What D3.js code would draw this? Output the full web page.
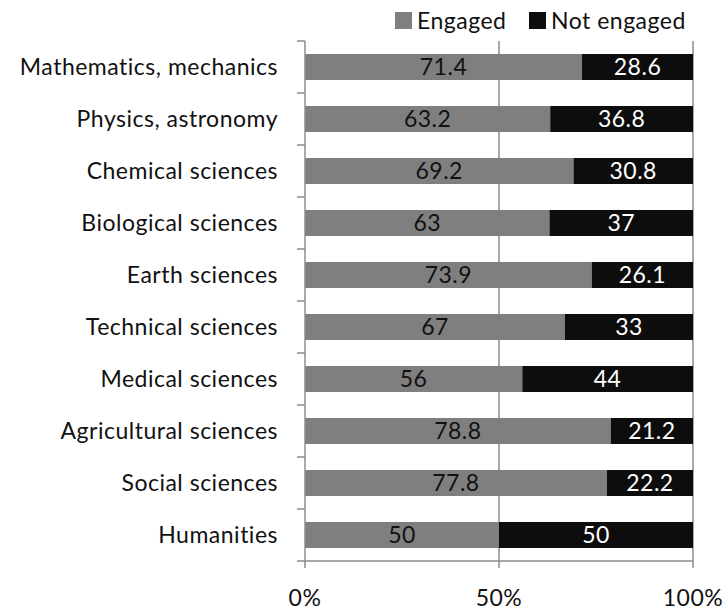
<!DOCTYPE html>
<html>
<head>
<meta charset="utf-8">
<script src="https://cdn.jsdelivr.net/npm/d3@7"></script>
<style>
  body { margin: 0; background: #fff; }
  svg text { font-family: Lato, "Open Sans", sans-serif; letter-spacing: 0.5px; }
</style>
</head>
<body>
<div id="chart"></div>
<script>
// data
const categories = ["Mathematics, mechanics", "Physics, astronomy", "Chemical sciences",
  "Biological sciences", "Earth sciences", "Technical sciences", "Medical sciences",
  "Agricultural sciences", "Social sciences", "Humanities"];
const engaged = [71.4, 63.2, 69.2, 63, 73.9, 67, 56, 78.8, 77.8, 50];
const notEngaged = [28.6, 36.8, 30.8, 37, 26.1, 33, 44, 21.2, 22.2, 50];
const seriesNames = ["Engaged", "Not engaged"];
const xTicks = [0, 50, 100];

(() => {
  const W = 728, H = 613;
  const margin = {top: 41, right: 35, bottom: 52, left: 305};
  const width = W - margin.left - margin.right,
        height = H - margin.top - margin.bottom;
  const colors = ["#7f7f7f", "#0d0d0d"];
  const gridColor = "#8c8c8c";
  const fs = 23;

  const svg = d3.select("#chart").append("svg")
      .attr("width", W).attr("height", H);

  const g = svg.append("g")
      .attr("transform", `translate(${margin.left},${margin.top})`);

  const x = d3.scaleLinear().domain([0, 100]).range([0, width]);
  const y = d3.scaleBand().domain(categories).range([0, height])
      .paddingInner(0.5).paddingOuter(0.25);
  const yb = d3.scaleBand().domain(categories).range([0, height]);

  // gridlines
  g.selectAll(".grid").data(xTicks.slice(1)).enter().append("line")
      .attr("x1", d => x(d)).attr("x2", d => x(d))
      .attr("y1", 0).attr("y2", height + 7)
      .attr("stroke", gridColor).attr("stroke-width", 1.5);

  // stacked rows
  const segs = [];
  categories.forEach((c, i) => {
    let acc = 0;
    [engaged[i], notEngaged[i]].forEach((v, k) => {
      segs.push({cat: c, k: k, x0: acc, x1: acc + v, v: v});
      acc += v;
    });
  });

  g.selectAll("rect.seg").data(segs).enter().append("rect")
      .attr("class", "seg")
      .attr("x", d => x(d.x0))
      .attr("width", d => x(d.x1) - x(d.x0))
      .attr("y", d => y(d.cat))
      .attr("height", y.bandwidth())
      .attr("fill", d => colors[d.k]);

  g.selectAll("text.val").data(segs).enter().append("text")
      .attr("class", "val")
      .attr("x", d => x((d.x0 + d.x1) / 2))
      .attr("y", d => y(d.cat) + y.bandwidth() / 2)
      .attr("dy", "0.36em")
      .attr("text-anchor", "middle")
      .attr("font-size", fs)
      .attr("fill", d => d.k === 0 ? "#111" : "#fff")
      .text(d => d.v);

  // y axis
  g.append("line").attr("x1", 0).attr("x2", 0).attr("y1", 0).attr("y2", height + 7)
      .attr("stroke", gridColor).attr("stroke-width", 1.5);
  const yTickPos = categories.map(c => yb(c)).concat([height]);
  g.selectAll(".ytick").data(yTickPos).enter().append("line")
      .attr("x1", -8).attr("x2", 0)
      .attr("y1", d => d).attr("y2", d => d)
      .attr("stroke", gridColor).attr("stroke-width", 1.5);
  // x axis line
  g.append("line").attr("x1", 0).attr("x2", width).attr("y1", height).attr("y2", height)
      .attr("stroke", gridColor).attr("stroke-width", 1.5);

  g.selectAll(".ylab").data(categories).enter().append("text")
      .attr("x", -27)
      .attr("y", d => yb(d) + yb.bandwidth() / 2)
      .attr("dy", "0.36em")
      .attr("text-anchor", "end")
      .attr("font-size", fs)
      .attr("fill", "#111")
      .text(d => d);

  g.selectAll(".xlab").data(xTicks).enter().append("text")
      .attr("x", d => x(d))
      .attr("y", height + 45)
      .attr("text-anchor", "middle")
      .attr("font-size", fs)
      .attr("fill", "#111")
      .text(d => d + "%");

  // legend
  const legX = [395, 529];
  const leg = svg.selectAll(".leg").data(seriesNames).enter().append("g")
      .attr("transform", (d, i) => `translate(${legX[i]},12)`);
  leg.append("rect").attr("width", 17).attr("height", 17)
      .attr("fill", (d, i) => colors[i]);
  leg.append("text").attr("x", 22).attr("y", 8.5).attr("dy", "0.36em")
      .attr("font-size", fs).attr("fill", "#111")
      .text(d => d);
})();
</script>
</body>
</html>
